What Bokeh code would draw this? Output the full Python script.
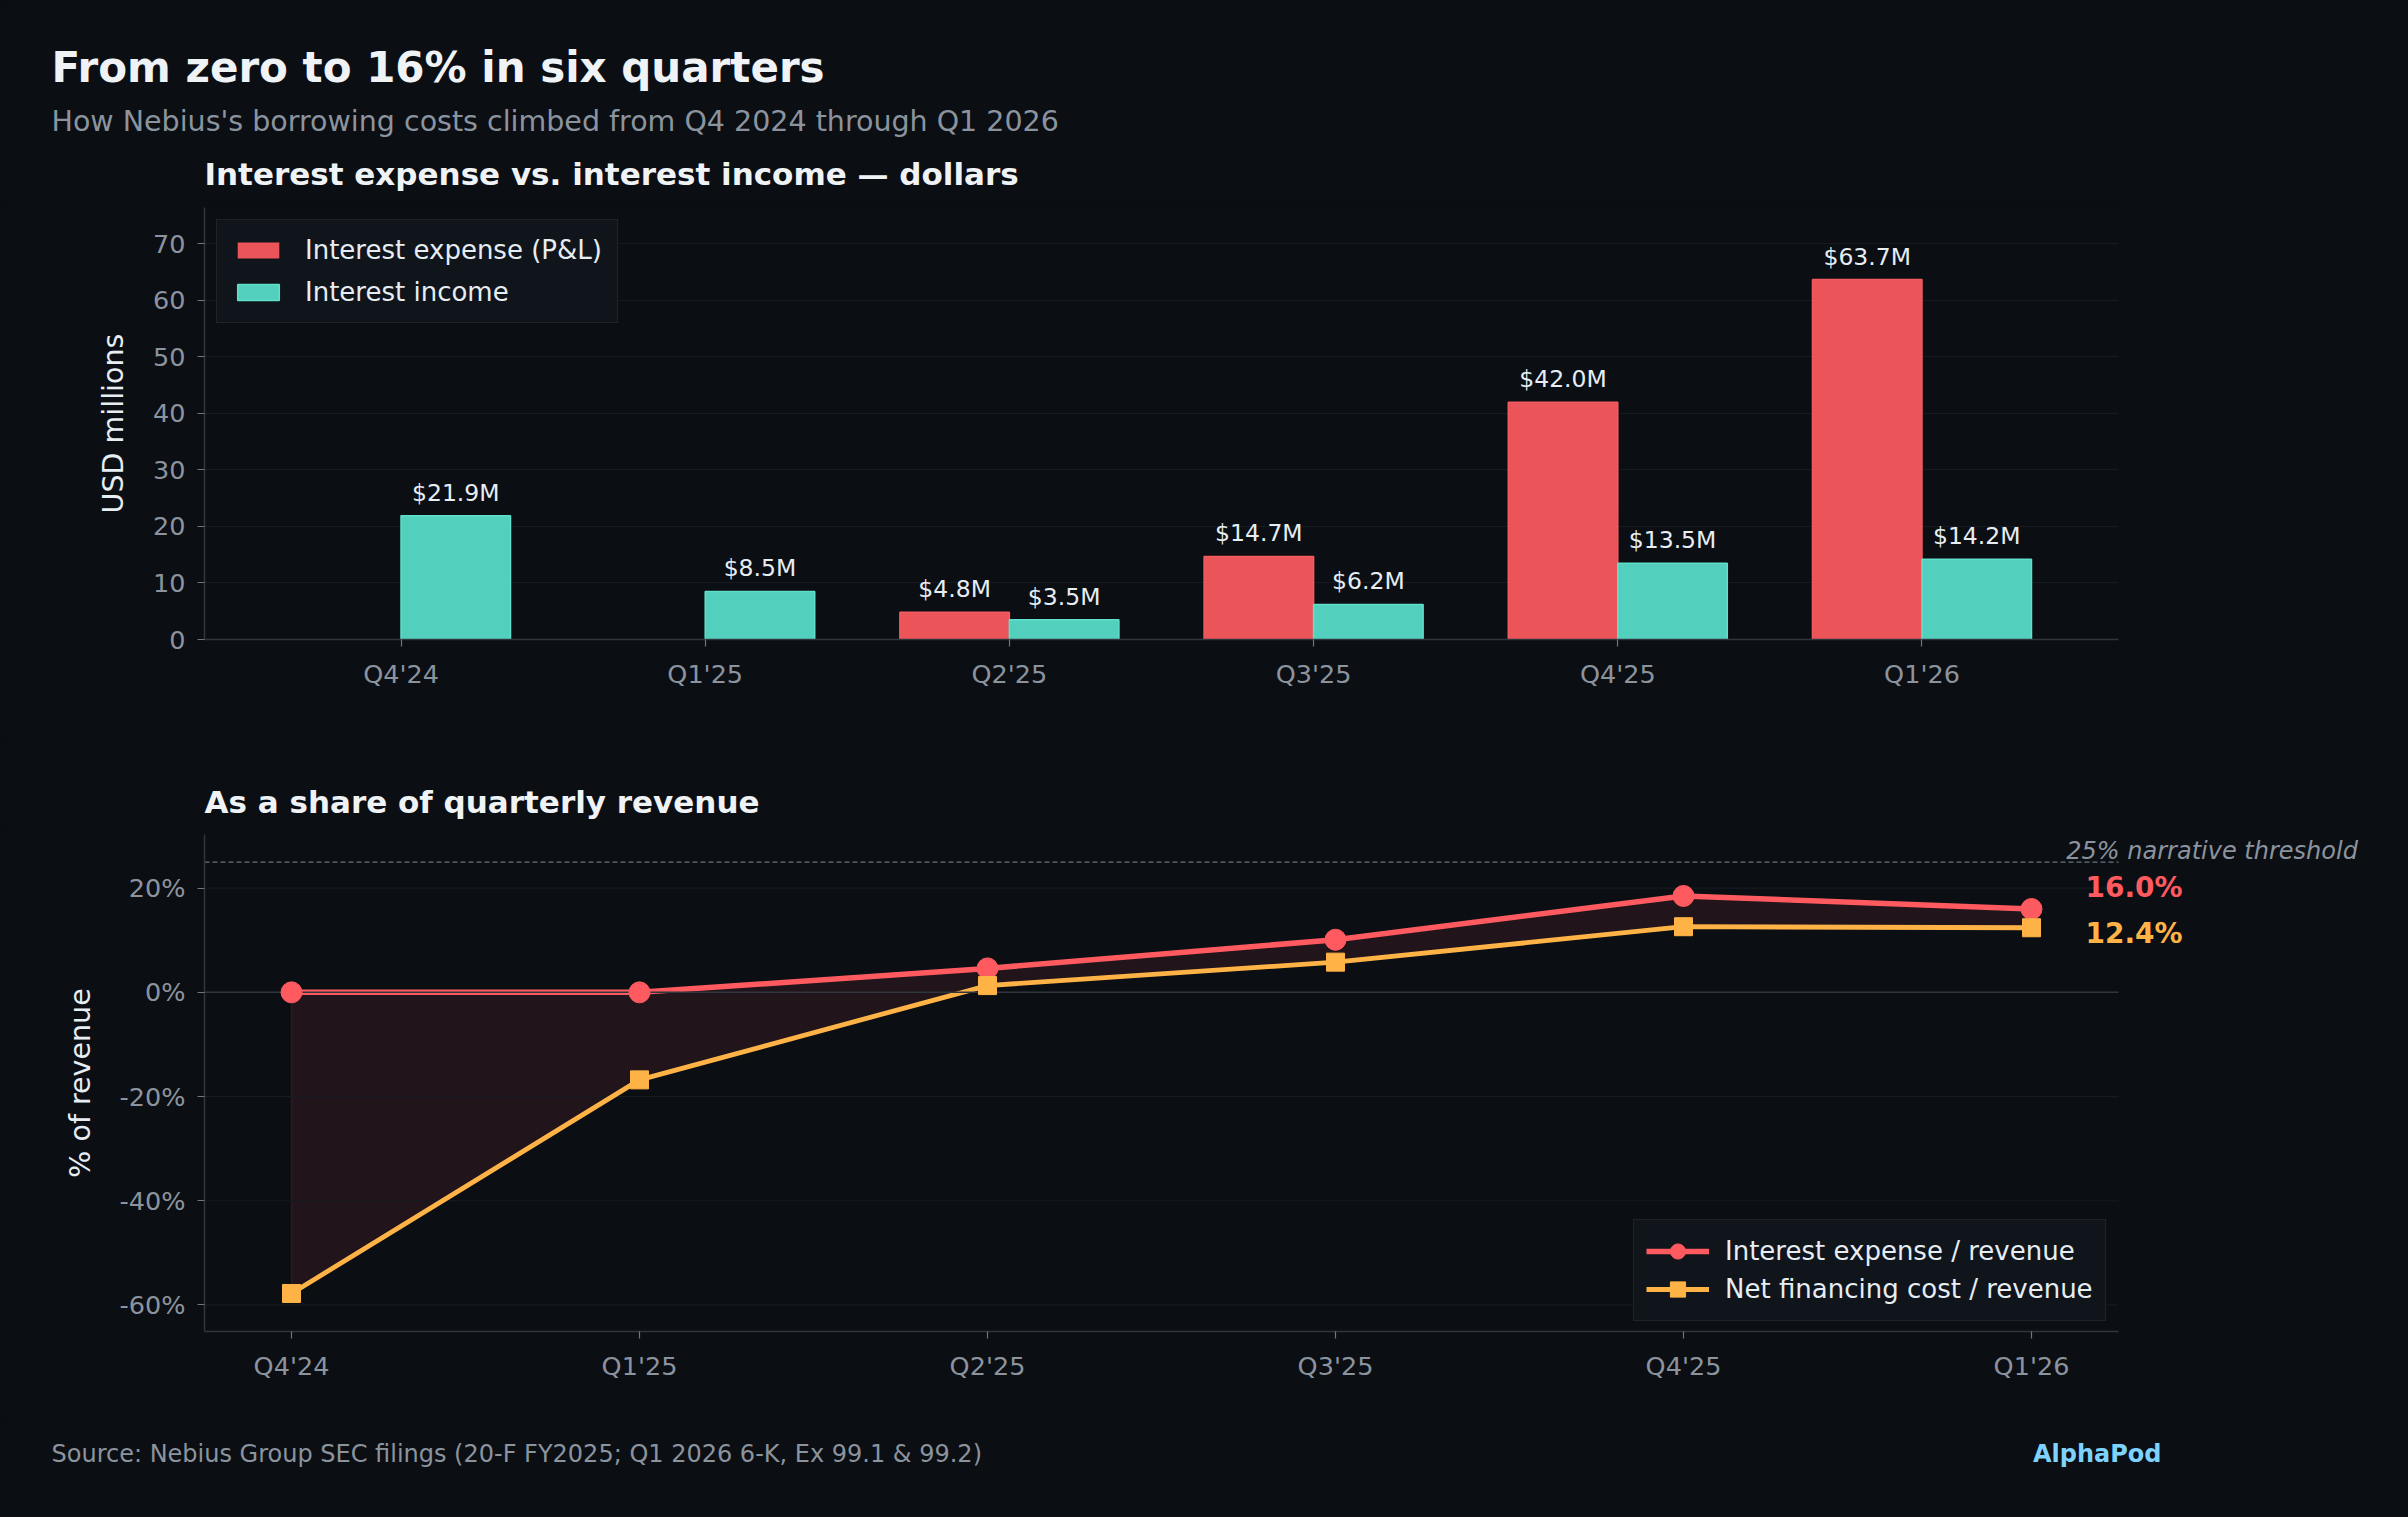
from bokeh.plotting import figure
from bokeh.models import (ColumnDataSource, FixedTicker, Label, Legend, LegendItem,
                          Range1d)
from bokeh.transform import dodge
from bokeh.embed import file_html
from bokeh.resources import INLINE
from bokeh.core.properties import value

# ---------------- data ----------------
quarters = ["Q4'24", "Q1'25", "Q2'25", "Q3'25", "Q4'25", "Q1'26"]
interest_expense = [0.0, 0.0, 4.8, 14.7, 42.0, 63.7]      # USD millions
interest_income = [21.9, 8.5, 3.5, 6.2, 13.5, 14.2]       # USD millions
expense_pct = [0.0, 0.0, 4.6, 10.1, 18.5, 16.0]           # % of revenue
net_pct = [-57.8, -16.8, 1.3, 5.8, 12.6, 12.4]            # % of revenue
threshold_pct = 25
usd_ticks = [0, 10, 20, 30, 40, 50, 60, 70]
pct_ticks = [-60, -40, -20, 0, 20]

# ---------------- style ----------------
BG = "#0b0e13"
FONT = "DejaVu Sans"
TXT = "#e6edf3"
TITLE = "#f0f3f6"
MUTED = "#8b949e"
AXIS = "#30363d"
GRID = "#161b22"
RED = "#eb5559"
RED_EDGE = "#f25c61"
TEAL = "#53cfbd"
TEAL_EDGE = "#5fe0ca"
RED_LINE = "#ff5a5f"
ORANGE = "#ffb347"
LEG_BG = "#10141b"
LEG_BORDER = "#2a313b"
BRAND = "#7dd3fc"

W = 2408
FRAME_L = 204          # left edge of both plot frames
FRAME_R = 2118         # right edge of the plotted axes
idx = list(range(len(quarters)))


def text_fig(h):
    f = figure(width=W, height=h, x_range=Range1d(0, W), y_range=Range1d(h, 0),
               x_axis_type=None, y_axis_type=None, output_backend="svg",
               toolbar_location=None, min_border=0)
    f.background_fill_color = BG
    f.border_fill_color = BG
    f.outline_line_color = None
    return f


def lab(p, text, x, y, size, color=TXT, style="normal", align="left"):
    p.add_layout(Label(x=x, y=y, text=text, text_font=FONT, text_font_size=size,
                       text_color=color, text_font_style=style,
                       text_align=align, text_baseline="middle"))


def style(p):
    p.background_fill_color = BG
    p.border_fill_color = BG
    p.outline_line_color = None
    p.xgrid.grid_line_color = None
    p.ygrid.grid_line_color = GRID
    p.ygrid.grid_line_width = 1.2
    p.axis.axis_line_color = AXIS
    p.axis.axis_line_width = 1.5
    p.axis.major_tick_line_color = "#6e7681"
    p.axis.major_tick_line_width = 1.2
    p.axis.major_tick_out = 7
    p.axis.major_tick_in = 0
    p.axis.minor_tick_line_color = None
    p.axis.major_label_text_color = MUTED
    p.axis.major_label_text_font = FONT
    p.axis.major_label_text_font_size = "25.5px"
    p.axis.major_label_standoff = 12
    p.axis.axis_label_text_color = TXT
    p.axis.axis_label_text_font = FONT
    p.axis.axis_label_text_font_size = "28.5px"
    p.axis.axis_label_text_font_style = "normal"
    p.xaxis.ticker = FixedTicker(ticks=idx)
    p.xaxis.major_label_overrides = {i: q for i, q in zip(idx, quarters)}


# ---------------- header ----------------
H0 = 200
head = text_fig(H0)
lab(head, "From zero to 16% in six quarters", 51, 66.5, "42px", TITLE, "bold")
lab(head, "How Nebius's borrowing costs climbed from Q4 2024 through Q1 2026",
    51, 121, "28.5px", MUTED)
lab(head, "Interest expense vs. interest income \u2014 dollars", FRAME_L, 173.7,
    "31px", TITLE, "bold")

# ---------------- top: dollars ----------------
H1 = 540
p1 = figure(width=W, height=H1, x_range=Range1d(-0.646, 5.646),
            y_range=Range1d(0, 76.44), output_backend="svg",
            toolbar_location=None, title=None,
            min_border_left=FRAME_L, min_border_right=W - FRAME_R,
            min_border_top=207 - H0, min_border_bottom=H0 + H1 - 639)
style(p1)
p1.yaxis.ticker = FixedTicker(ticks=usd_ticks)
p1.yaxis.axis_label = "USD millions"
p1.yaxis.axis_label_standoff = 20

src1 = ColumnDataSource(dict(
    x=idx, exp=interest_expense, inc=interest_income,
    exp_edge=[1.0 if v > 0 else 0.0 for v in interest_expense],
    exp_lab=[f"${v:.1f}M" if v > 0 else "" for v in interest_expense],
    inc_lab=[f"${v:.1f}M" if v > 0 else "" for v in interest_income],
))

r_exp = p1.vbar(x=dodge("x", -0.18), top="exp", width=0.36, source=src1,
                fill_color=RED, line_color=RED_EDGE, line_alpha="exp_edge",
                line_width=1.5)
r_inc = p1.vbar(x=dodge("x", 0.18), top="inc", width=0.36, source=src1,
                fill_color=TEAL, line_color=TEAL_EDGE, line_width=1.5)

for col, off in (("exp", -0.18), ("inc", 0.18)):
    p1.text(x=dodge("x", off), y=col, text=col + "_lab", source=src1,
            text_align="center", text_baseline="alphabetic", y_offset=-23,
            text_font=value(FONT), text_font_size="23.5px", text_color=TXT)

leg1 = Legend(items=[LegendItem(label="Interest expense (P&L)", renderers=[r_exp]),
                     LegendItem(label="Interest income", renderers=[r_inc])],
              location="top_left", margin=12, padding=15, spacing=12,
              glyph_width=52, glyph_height=20, label_height=28,
              label_standoff=21,
              label_text_font=FONT, label_text_font_size="26px",
              label_text_color=TXT,
              background_fill_color=LEG_BG, background_fill_alpha=1.0,
              border_line_color=LEG_BORDER, border_line_width=1.5)
p1.add_layout(leg1)

# ---------------- sub-header ----------------
HM = 84
mid = text_fig(HM)
lab(mid, "As a share of quarterly revenue", FRAME_L, 801 - (H0 + H1), "31px",
    TITLE, "bold")

# ---------------- bottom: % of revenue ----------------
TOP2 = H0 + H1 + HM
H2 = 1420 - TOP2
X_LO, X_HI = -0.25, 5.25
Y_LO, Y_HI = -65.1, 30.3
px_per_unit = (FRAME_R - FRAME_L) / (X_HI - X_LO)
x_end = X_LO + (W - FRAME_L) / px_per_unit   # frame runs to the right edge for end labels

p2 = figure(width=W, height=H2, x_range=Range1d(X_LO, x_end),
            y_range=Range1d(Y_LO, Y_HI), output_backend="svg",
            toolbar_location=None, title=None,
            min_border_left=FRAME_L, min_border_right=0,
            min_border_top=834 - TOP2, min_border_bottom=TOP2 + H2 - 1331)
style(p2)
p2.ygrid.grid_line_color = None
p2.xaxis.bounds = (X_LO, X_HI)
p2.yaxis.ticker = FixedTicker(ticks=pct_ticks)
p2.yaxis.major_label_overrides = {t: f"{t}%" for t in pct_ticks}
p2.yaxis.axis_label = "% of revenue"
p2.yaxis.axis_label_standoff = 20

src2 = ColumnDataSource(dict(x=idx, e=expense_pct, n=net_pct))

# band between the two ratios (edge drawn faintly, like a filled polygon)
p2.patch(x=idx + idx[::-1], y=expense_pct + net_pct[::-1],
         fill_color=RED_LINE, fill_alpha=0.09,
         line_color=RED_LINE, line_alpha=0.12, line_width=1.5)

n_t = len(pct_ticks)
p2.segment(x0=[X_LO] * n_t, y0=pct_ticks, x1=[X_HI] * n_t, y1=pct_ticks,
           line_color=GRID, line_width=1.2)
p2.segment(x0=[X_LO], y0=[threshold_pct], x1=[X_HI], y1=[threshold_pct],
           line_color=MUTED, line_alpha=0.75, line_width=1.3, line_dash="5 3")

l1 = p2.line("x", "e", source=src2, line_color=RED_LINE, line_width=5.5)
l2 = p2.line("x", "n", source=src2, line_color=ORANGE, line_width=4.8)
p2.segment(x0=[X_LO], y0=[0], x1=[X_HI], y1=[0], line_color=AXIS, line_width=1.5)
s1 = p2.scatter("x", "e", source=src2, marker="circle", size=21,
                fill_color=RED_LINE, line_color=RED_LINE)
s2 = p2.scatter("x", "n", source=src2, marker="square", size=18,
                fill_color=ORANGE, line_color=ORANGE)

leg2 = Legend(items=[LegendItem(label="Interest expense / revenue", renderers=[l1, s1]),
                     LegendItem(label="Net financing cost / revenue", renderers=[l2, s2])],
              location=(1633 - FRAME_L, 1331 - 1321), padding=12, spacing=0,
              glyph_width=63, glyph_height=38, label_height=30,
              label_standoff=16,
              label_text_font=FONT, label_text_font_size="26px",
              label_text_color=TXT,
              background_fill_color=LEG_BG, background_fill_alpha=1.0,
              border_line_color=LEG_BORDER, border_line_width=1.5)
p2.add_layout(leg2)

p2.add_layout(Label(x=5.1, y=threshold_pct + 2.1, text=f"{threshold_pct}% narrative threshold",
                    text_font=FONT, text_font_size="24px", text_color=MUTED,
                    text_font_style="italic", text_baseline="middle"))
p2.add_layout(Label(x=5.155, y=expense_pct[-1] + 4.15, text=f"{expense_pct[-1]:.1f}%",
                    text_font=FONT, text_font_size="28px", text_color=RED_LINE,
                    text_font_style="bold", text_baseline="middle"))
p2.add_layout(Label(x=5.155, y=net_pct[-1] - 1.15, text=f"{net_pct[-1]:.1f}%",
                    text_font=FONT, text_font_size="28px", text_color=ORANGE,
                    text_font_style="bold", text_baseline="middle"))

# ---------------- footer ----------------
HF = 1517 - 1420
foot = text_fig(HF)
lab(foot, "Source: Nebius Group SEC filings (20-F FY2025; Q1 2026 6-K, Ex 99.1 & 99.2)",
    51, 1453 - 1420, "24px", MUTED)
lab(foot, "AlphaPod", 2161, 1453 - 1420, "24px", BRAND, "bold", align="right")

# independent roots (stacked vertically) so that each figure keeps its own frame
roots = [head, p1, mid, p2, foot]
html = file_html(roots, INLINE)
html = html.replace("<head>", "<head><style>html,body{margin:0;padding:0;background:%s;}</style>" % BG, 1)
open("out.html", "w").write(html)
